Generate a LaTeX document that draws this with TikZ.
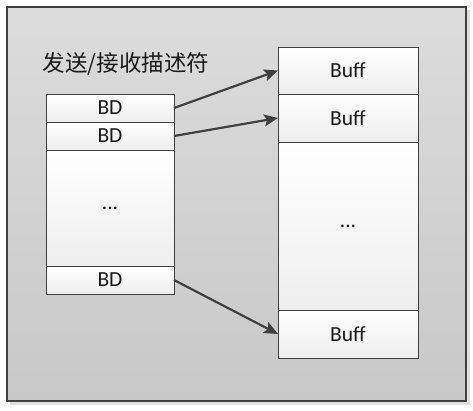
\documentclass[tikz,border=0pt]{standalone}
\usepackage{fontspec}
\setmainfont{Carlito}
\newfontfamily\cjk{Noto Sans CJK SC}
\usetikzlibrary{arrows.meta}
\usetikzlibrary{positioning}

\definecolor{framegray}{HTML}{404040}
\definecolor{paneltop}{HTML}{DCDCDC}
\definecolor{panelbot}{HTML}{C8C8C8}
\definecolor{cellbot}{HTML}{EEEEEE}

\tikzset{
  cell/.style={rectangle, draw=framegray, line width=.8pt, top color=white, bottom color=cellbot,
    inner sep=0pt, outer sep=0pt, font=\fontsize{21.5}{21.5}\selectfont, text=black!90},
  bdcell/.style={cell, minimum width=128pt, minimum height=28pt},
  bufcell/.style={cell, minimum width=140pt, minimum height=48pt},
  conn/.style={black!75, line width=2.2pt, -{Stealth[length=14pt, width=12pt, inset=3pt]}}
}

\begin{document}
\begin{tikzpicture}[x=1pt, y=-1pt]
\useasboundingbox (0,0) rectangle (473,410);
\fill[black!12] (10,10) rectangle (470,405);
\draw[framegray, line width=2pt, top color=paneltop, bottom color=panelbot] (7,7) rectangle (466,401);

\node[text=black!90, font=\cjk\fontsize{22.5}{22.5}\selectfont] (title) at (126,64) {发送/接收描述符};

% descriptor ring
\node[bdcell] (bd1) at (110,108) {BD};
\node[bdcell, below=0pt of bd1] (bd2) {BD};
\node[bdcell, below=0pt of bd2, minimum height=116pt] (bddots) {...};
\node[bdcell, below=0pt of bddots] (bd3) {BD};

% buffers
\node[bufcell, minimum height=47pt] (buf1) at (348,70.5) {Buff};
\node[bufcell, below=0pt of buf1] (buf2) {Buff};
\node[bufcell, below=0pt of buf2, minimum height=168pt] (bufdots) {...};
\node[bufcell, below=0pt of bufdots] (buf3) {Buff};

\draw[conn] (bd1.east) -- (buf1.west);
\draw[conn] (bd2.east) -- (buf2.west);
\draw[conn] (bd3.east) -- (buf3.west);

\end{tikzpicture}
\end{document}
